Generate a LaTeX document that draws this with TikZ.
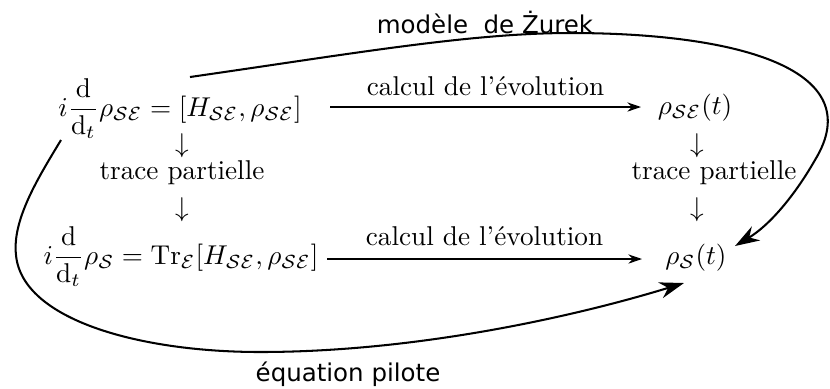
\documentclass[tikz,border=0pt]{standalone}
\usepackage{fontspec}
\usetikzlibrary{arrows.meta}
\newfontfamily\lblfont{DejaVu Sans}
\tikzset{
  mathnode/.style={inner sep=0pt, anchor=base},
  evol/.style={-{Stealth[length=5pt,width=3.4pt]}, line width=0.4pt},
  bigcurve/.style={-{Stealth[length=9pt,width=6pt]}, line width=0.75pt},
  curvelabel/.style={font=\lblfont\fontsize{9}{11}\selectfont, inner sep=0pt},
}
\newcommand{\ddt}{{\displaystyle\frac{\mathrm{d}}{\mathrm{d}_t}}}
\begin{document}
\begin{tikzpicture}[x=0.3676pt,y=-0.3676pt]
\useasboundingbox (0,0) rectangle (830,388);
% nodes
\node[mathnode] (A) at (180,116) {$i\ddt\rho_{\mathcal{S}\mathcal{E}} = [H_{\mathcal{S}\mathcal{E}},\rho_{\mathcal{S}\mathcal{E}}]$};
\node[mathnode] (B) at (695,114) {$\rho_{\mathcal{S}\mathcal{E}}(t)$};
\node[mathnode] (C) at (181,264) {$i\ddt\rho_{\mathcal{S}} = \mathrm{Tr}_{\mathcal{E}}[H_{\mathcal{S}\mathcal{E}},\rho_{\mathcal{S}\mathcal{E}}]$};
\node[mathnode] (D) at (696,264) {$\rho_{\mathcal{S}}(t)$};
% left column
\node (la1) at (182,146) {$\downarrow$};
\node (lt) at (182,173) {trace partielle};
\node (la2) at (182,210) {$\downarrow$};
% right column
\node (ra1) at (697,146) {$\downarrow$};
\node (rt) at (714,173) {trace partielle};
\node (ra2) at (697,210) {$\downarrow$};
% horizontal arrows
\coordinate (h1s) at (330,107);
\coordinate (h1e) at (641,107);
\coordinate (h2s) at (327,259);
\coordinate (h2e) at (642,259);
\draw[evol] (h1s) -- node[above=0.6pt] (l1) {calcul de l'évolution} (h1e);
\draw[evol] (h2s) -- node[above=1.2pt] (l2) {calcul de l'évolution} (h2e);
% top curve
\coordinate (t0) at (190,77);
\coordinate (t1) at (570,33);
\coordinate (t2) at (815,160);
\coordinate (t3) at (735,246);
\draw[bigcurve] (t0) .. controls (350,54) and (470,33) .. (t1)
  .. controls (740,33) and (870,70) .. (t2)
  .. controls (795,195) and (770,225) .. (t3);
\node[curvelabel] (zl) at (485,22) {modèle\ \ de Żurek};
% bottom curve
\coordinate (b0) at (61,140);
\coordinate (b1) at (16,255);
\coordinate (b2) at (260,352);
\coordinate (b3) at (684,283);
\draw[bigcurve] (b0) .. controls (38,178) and (12,220) .. (b1)
  .. controls (22,320) and (140,352) .. (b2)
  .. controls (420,352) and (580,315) .. (b3);
\node[curvelabel] (pl) at (348,374) {équation pilote};
\end{tikzpicture}
\end{document}
